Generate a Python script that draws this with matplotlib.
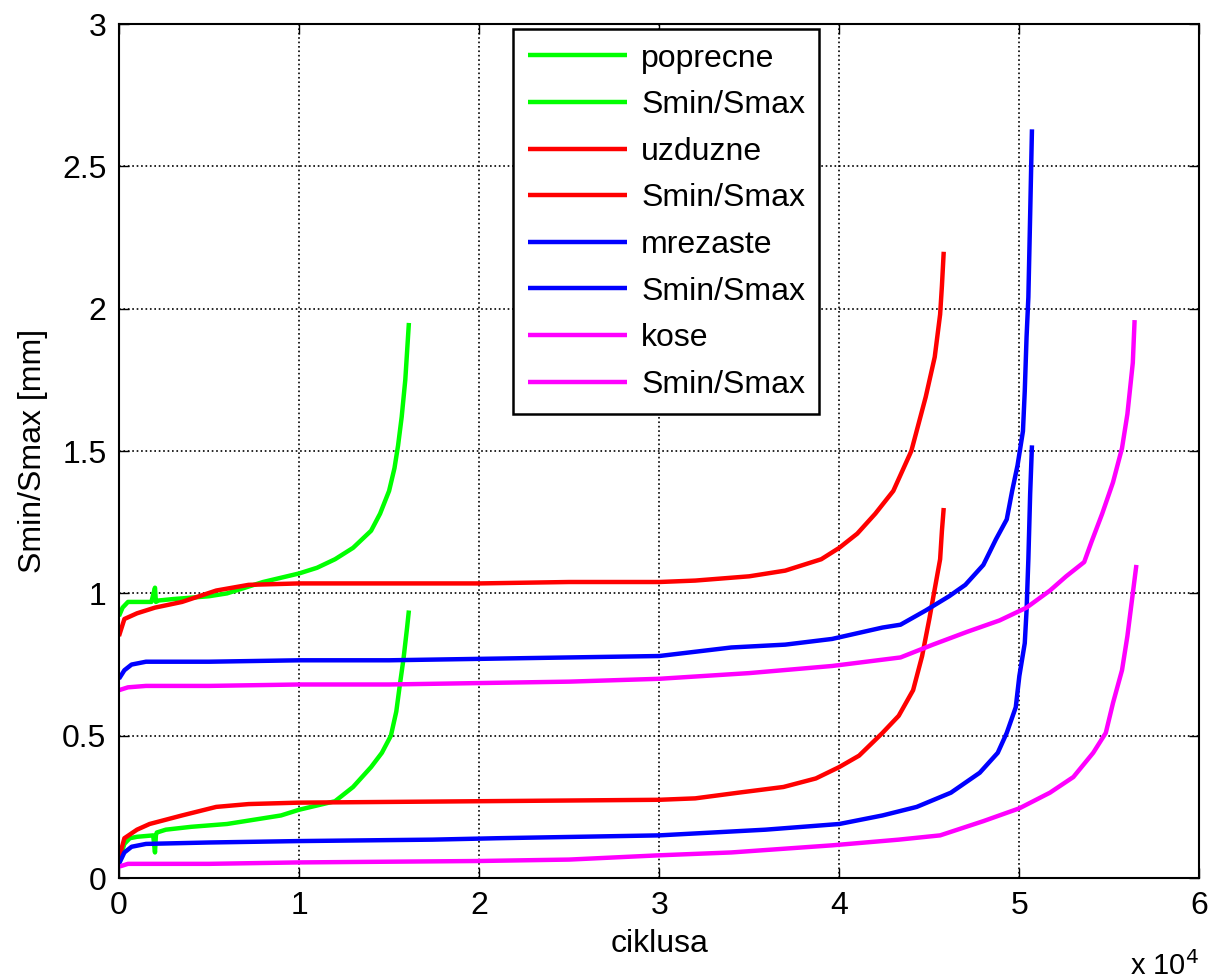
import matplotlib
matplotlib.use("Agg")
import matplotlib.pyplot as plt
from matplotlib.ticker import FuncFormatter

plt.rcParams["font.family"] = ["Liberation Sans", "DejaVu Sans"]

# cycles / displacement
pop_x = [0, 200, 500, 1000, 1800, 2000, 2050, 2200, 3000, 4000, 5000, 6000, 7000, 8000,
         9000, 10000, 11000, 12000, 13000, 14000, 14500, 15000, 15300, 15500, 15700,
         15900, 16000, 16100]
pop_y = [0.92, 0.95, 0.97, 0.97, 0.97, 1.02, 0.97, 0.975, 0.98, 0.985, 0.99, 1.0, 1.02,
         1.04, 1.055, 1.07, 1.09, 1.12, 1.16, 1.22, 1.28, 1.36, 1.44, 1.52, 1.62, 1.75,
         1.85, 1.95]
pop_r_x = [0, 300, 600, 1000, 1900, 2000, 2050, 2100, 2600, 4000, 6000, 8000, 9000,
           10000, 11000, 12000, 13000, 14000, 14600, 15100, 15400, 15600, 15800, 16000, 16100]
pop_r_y = [0.06, 0.12, 0.14, 0.145, 0.15, 0.09, 0.15, 0.16, 0.17, 0.18, 0.19, 0.21, 0.22,
           0.24, 0.255, 0.27, 0.32, 0.39, 0.44, 0.50, 0.585, 0.68, 0.77, 0.88, 0.94]

uzd_x = [0, 300, 1000, 2000, 3500, 5400, 7200, 10000, 15000, 20000, 25000, 30000, 32000,
         35000, 37000, 39000, 40000, 41000, 42000, 43000, 44000, 44800, 45300, 45600,
         45700, 45800]
uzd_y = [0.85, 0.91, 0.93, 0.95, 0.97, 1.01, 1.03, 1.035, 1.035, 1.035, 1.04, 1.04, 1.045,
         1.06, 1.08, 1.12, 1.16, 1.21, 1.28, 1.36, 1.50, 1.69, 1.83, 1.98, 2.08, 2.2]
uzd_r_x = [0, 300, 1000, 1700, 3500, 5400, 7200, 10000, 20000, 30000, 32000, 34400, 36900,
           38700, 40000, 41100, 42400, 43300, 44100, 44600, 45000, 45400, 45600, 45700, 45800]
uzd_r_y = [0.07, 0.14, 0.17, 0.19, 0.22, 0.25, 0.26, 0.265, 0.27, 0.275, 0.28, 0.30, 0.32,
           0.35, 0.39, 0.43, 0.51, 0.57, 0.66, 0.78, 0.91, 1.05, 1.12, 1.22, 1.30]

mre_x = [0, 300, 700, 1500, 5000, 10000, 15000, 20000, 25000, 30000, 34000, 37000, 39600,
         42400, 43400, 44800, 46100, 47000, 48000, 48700, 49300, 49600, 49900, 50200,
         50300, 50400, 50500, 50600, 50700]
mre_y = [0.70, 0.73, 0.75, 0.76, 0.76, 0.765, 0.765, 0.77, 0.775, 0.78, 0.81, 0.82, 0.84,
         0.88, 0.89, 0.94, 0.99, 1.03, 1.10, 1.19, 1.26, 1.36, 1.45, 1.57, 1.71, 1.90,
         2.04, 2.33, 2.63]
mre_r_x = [0, 300, 700, 1500, 5000, 10000, 17400, 21000, 30000, 35900, 40000, 42400, 44300,
           46200, 47800, 48800, 49300, 49800, 50000, 50300, 50400, 50500, 50600, 50700]
mre_r_y = [0.05, 0.09, 0.11, 0.12, 0.125, 0.13, 0.135, 0.14, 0.15, 0.17, 0.19, 0.22, 0.25,
           0.30, 0.37, 0.44, 0.51, 0.60, 0.71, 0.825, 0.94, 1.12, 1.35, 1.52]

kos_x = [0, 500, 1500, 5000, 10000, 15000, 20000, 25000, 30000, 35000, 39600, 43400, 45200,
         47100, 48900, 50400, 51700, 52600, 53600, 54000, 54600, 55200, 55700, 56000,
         56300, 56400]
kos_y = [0.66, 0.67, 0.675, 0.675, 0.68, 0.68, 0.685, 0.69, 0.70, 0.72, 0.745, 0.775, 0.82,
         0.865, 0.905, 0.95, 1.01, 1.06, 1.11, 1.18, 1.28, 1.39, 1.51, 1.63, 1.81, 1.96]
kos_r_x = [0, 500, 5000, 10000, 20000, 25000, 30000, 34000, 39600, 43300, 45600, 48000,
           50000, 51700, 53000, 54100, 54800, 55200, 55700, 56000, 56300, 56500]
kos_r_y = [0.04, 0.05, 0.05, 0.055, 0.06, 0.065, 0.08, 0.09, 0.115, 0.135, 0.15, 0.20,
           0.245, 0.30, 0.355, 0.44, 0.51, 0.615, 0.73, 0.85, 1.0, 1.10]

series = [
    (pop_x, pop_y, "#00ff00", "poprecne"),
    (pop_r_x, pop_r_y, "#00ff00", "Smin/Smax"),
    (uzd_x, uzd_y, "#ff0000", "uzduzne"),
    (uzd_r_x, uzd_r_y, "#ff0000", "Smin/Smax"),
    (mre_x, mre_y, "#0000ff", "mrezaste"),
    (mre_r_x, mre_r_y, "#0000ff", "Smin/Smax"),
    (kos_x, kos_y, "#ff00ff", "kose"),
    (kos_r_x, kos_r_y, "#ff00ff", "Smin/Smax"),
]

FS = 23

fig = plt.figure(figsize=(12.14, 9.8), dpi=100)
ax = fig.add_axes([0.098, 0.104, 0.890, 0.8715])

for x, y, c, lab in series:
    ax.plot(x, y, color=c, lw=3.2, label=lab, solid_capstyle="butt")

ax.set_xlim(0, 60000)
ax.set_ylim(0, 3)
ax.set_xticks([0, 10000, 20000, 30000, 40000, 50000, 60000])
ax.xaxis.set_major_formatter(FuncFormatter(lambda v, p: f"{v / 1e4:g}"))
ax.set_yticks([0, 0.5, 1, 1.5, 2, 2.5, 3])
ax.yaxis.set_major_formatter(FuncFormatter(lambda v, p: f"{v:g}"))
ax.tick_params(direction="in", length=7, width=1, top=True, right=True,
               labelsize=FS, pad=9, colors="black")
for s in ax.spines.values():
    s.set_linewidth(1.5)
ax.grid(True, color="black", ls=":", lw=1.2)

ax.set_xlabel("ciklusa", fontsize=FS, labelpad=6)
ax.set_ylabel("Smin/Smax [mm]", fontsize=FS, labelpad=10)
ax.text(1.0, -0.113, "x 10$^4$", transform=ax.transAxes, ha="right", va="baseline",
        fontsize=21)

leg = ax.legend(loc="upper left", bbox_to_anchor=(0.365, 0.994), fontsize=FS,
                handlelength=3.1, labelspacing=0.52, borderpad=0.45, handletextpad=0.45,
                borderaxespad=0, fancybox=False, framealpha=1, edgecolor="black")
leg.get_frame().set_linewidth(1.8)

fig.savefig("out.png", dpi=100)
